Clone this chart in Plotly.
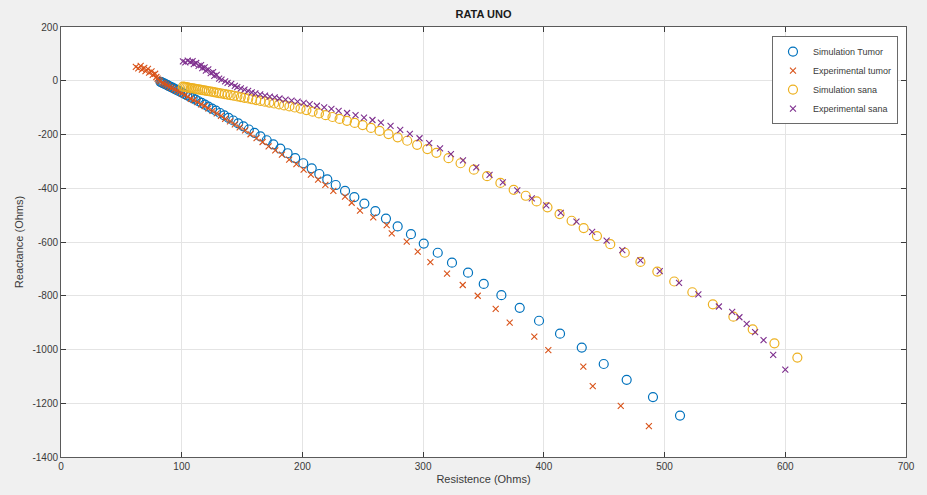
import plotly.graph_objects as go

# ---------------- data ----------------
sim_tumor_x = [82.4, 83.4, 84.5, 85.6, 86.8, 88.1, 89.4, 90.8, 92.2, 93.7,
               95.3, 97.0, 98.8, 100.6, 102.6, 104.6, 106.8, 109.0, 111.4, 113.9,
               116.5, 119.2, 122.1, 125.1, 128.3, 131.7, 135.2, 138.8, 142.7, 146.8,
               151.1, 155.6, 160.3, 165.2, 170.4, 175.9, 181.7, 187.7, 194.0,
               200.7, 207.7, 214.0, 220.6, 227.6, 235.3, 243.0, 251.3, 260.4, 269.2,
               278.9, 289.9, 300.5, 312.1, 323.9, 337.2, 350.2, 364.8, 380.0, 396.0,
               413.4, 431.4, 449.6, 468.6, 490.4, 512.8]
sim_tumor_y = [-4, -6.2, -8.6, -11, -13.7, -16.6, -19.6, -22.7, -25.9, -29.3,
               -32.9, -36.8, -40.9, -45, -49.7, -54.3, -59.5, -64.7, -70.4, -76.3,
               -82.6, -89.2, -96.1, -103.5, -111.5, -120, -128.8, -137.9, -147.9, -158.4,
               -169.6, -181.4, -194, -207.2, -221.4, -236.5, -252.8, -269.7, -287.7,
               -307, -326, -347, -367, -388, -410, -433, -457, -485, -513,
               -542, -571, -606, -640, -677, -714, -756, -798, -845, -893,
               -941, -993, -1054, -1113, -1177, -1246]

exp_tumor_x = [62, 64, 66, 67, 69, 70, 72, 73, 75, 76, 78, 79, 80, 81, 82,
               84, 85.5, 87, 88.5, 90, 92, 94, 96, 98, 100,
               102.5, 105, 107.5, 110, 113, 116, 119, 122, 125.5, 129,
               132.5, 136, 140, 144, 148, 152.5, 157, 162, 167, 172,
               177.5, 183, 189, 195, 201, 207, 213, 219,
               225.6, 235.3, 240.8, 247.7, 258.7, 269.8, 274, 286.4, 295.5, 306,
               319.8, 332.8, 345.2, 360.1, 371.7, 392.1, 403.7, 432.7, 440.5, 463.7, 487]
exp_tumor_y = [52, 46, 55, 41, 48, 36, 44, 30, 35, 22, 26, 14, 8, 2, -2,
               -7.5, -11.1, -14.8, -18.4, -23.5, -26.9, -31.8, -36.8, -40.5, -46.7,
               -52.9, -59.3, -67, -71.9, -79.7, -87.5, -94, -103.1, -112.4, -121.8,
               -131.1, -142, -151.5, -162.5, -173.7, -185, -199.1, -213.4, -227.9, -244,
               -258.8, -275.2, -293.4, -310, -330.3, -349.2, -368.2, -387.5,
               -410, -431, -454, -483, -508, -537, -568, -599, -636, -675,
               -718, -760, -800, -849, -900, -952, -1002, -1064, -1136, -1210, -1285]

sim_sana_x = [101, 102.2, 103.5, 104.8, 106.1, 107.5, 109, 110.5, 112, 113.6,
              115.2, 116.9, 118.7, 120.5, 122.4, 124.4, 126.5, 128.6, 130.8, 133.1,
              135.5, 138, 140.6, 143.3, 146.1, 149, 152, 155.1, 158.3, 161.7,
              165.2, 168.8, 172.6, 176.5, 180.6, 184.8, 189.2, 193.7, 198.4, 203.3,
              208.4, 213.7, 219.2, 224.9, 230.8, 236.9, 243.3, 249.9, 256.8, 263.9,
              271.3, 278.9, 286.8, 295, 303.5,
              311, 321, 331, 342, 353, 364, 375, 385, 394, 403,
              413, 423, 433, 444, 455, 467, 480, 494, 508, 523,
              540, 557, 573, 591, 610]
sim_sana_y = [-22, -23, -24, -25, -26, -27.2, -28.4, -29.6, -30.7, -32,
              -33.3, -34.6, -36.1, -37.5, -39, -40.6, -42.3, -43.9, -45.7, -47.5,
              -49.4, -51.4, -53.5, -55.9, -58.3, -60.8, -63.4, -66.1, -68.9, -71.8,
              -74.9, -78, -81.3, -84.6, -88.2, -91.8, -95.6, -99.5, -103.6, -109,
              -115, -121.4, -128, -134.9, -142, -149.3, -157, -164.9, -175.7, -186.8,
              -198.4, -210.4, -223.3, -238.5, -254.2,
              -268, -288, -307, -331, -355, -380, -406, -428, -449, -471,
              -496, -521, -548, -578, -608, -640, -674, -710, -747, -787,
              -832, -878, -925, -977, -1030]

exp_sana_x = [101, 103, 105, 107, 109, 110, 112, 114, 116, 117,
              119, 120, 122, 124, 126, 127, 129, 131, 133, 136,
              138, 141, 144, 146, 149, 152, 155, 158, 161, 165,
              169, 173, 177, 181, 186, 191, 196, 201, 206, 212,
              218, 224, 230, 237, 244, 251, 258, 265, 273, 281,
              289, 297, 305, 314, 323, 333, 344, 355, 366, 378,
              390, 402, 414, 427, 440, 452, 465, 480, 496, 512,
              528, 545, 556, 562, 568, 575, 582, 590, 600]
exp_sana_y = [72, 68, 75, 70, 73, 62, 66, 55, 58, 47,
              50, 38, 42, 28, 32, 18, 22, 8, 4, -2,
              -8, -12, -19, -24, -28, -33, -38, -43, -47, -51,
              -55, -59, -62, -66, -70, -74, -78, -82, -87, -93,
              -99, -105, -112, -120, -128, -137, -146, -156, -168, -183,
              -198, -214, -232, -252, -273, -296, -322, -350, -378, -408,
              -438, -464, -492, -524, -562, -595, -630, -668, -708, -752,
              -795, -840, -860, -880, -905, -935, -965, -1020, -1075]

series_names = ["Simulation Tumor", "Experimental tumor", "Simulation sana", "Experimental sana"]
x_ticks = [0, 100, 200, 300, 400, 500, 600, 700]
y_ticks = [-1400, -1200, -1000, -800, -600, -400, -200, 0, 200]

# ---------------- figure ----------------
FONT = "Liberation Sans, Arial, sans-serif"
fig = go.Figure()

fig.add_trace(go.Scatter(x=sim_tumor_x, y=sim_tumor_y, mode="markers", name=series_names[0],
                         marker=dict(symbol="circle-open", size=9, color="#0072BD",
                                     line=dict(width=1.2, color="#0072BD"))))
fig.add_trace(go.Scatter(x=exp_tumor_x, y=exp_tumor_y, mode="markers", name=series_names[1],
                         marker=dict(symbol="x-thin-open", size=6, color="#D95319",
                                     line=dict(width=1.1, color="#D95319"))))
fig.add_trace(go.Scatter(x=sim_sana_x, y=sim_sana_y, mode="markers", name=series_names[2],
                         marker=dict(symbol="circle-open", size=9, color="#EDB120",
                                     line=dict(width=1.2, color="#EDB120"))))
fig.add_trace(go.Scatter(x=exp_sana_x, y=exp_sana_y, mode="markers", name=series_names[3],
                         marker=dict(symbol="x-thin-open", size=6, color="#7E2F8E",
                                     line=dict(width=1.1, color="#7E2F8E"))))

axis_common = dict(showline=True, linecolor="#5a5a5a", linewidth=1, mirror="ticks",
                   ticks="inside", ticklen=5, tickcolor="#3a3a3a", tickwidth=1,
                   showgrid=True, gridcolor="#e4e4e4", gridwidth=1, zeroline=False,
                   tickfont=dict(family=FONT, size=10, color="#3a3a3a"))

fig.update_xaxes(range=[0, 700], tickvals=x_ticks, ticktext=[str(v) for v in x_ticks],
                 title=dict(text="Resistence (Ohms)", font=dict(family=FONT, size=11, color="#3a3a3a"),
                            standoff=4),
                 **axis_common)
fig.update_yaxes(range=[-1400, 200], tickvals=y_ticks, ticktext=[str(v) for v in y_ticks],
                 title=dict(text="Reactance (Ohms)", font=dict(family=FONT, size=11, color="#3a3a3a"),
                            standoff=6),
                 **axis_common)

fig.update_layout(
    width=927, height=495,
    margin=dict(l=61, r=21, t=27, b=38),
    paper_bgcolor="#f0f0f0", plot_bgcolor="white",
    title=dict(text="<b>RATA UNO</b>", x=0.5, xref="paper", xanchor="center",
               y=1 - 14 / 495, yref="container", yanchor="middle",
               font=dict(family=FONT, size=11, color="#1a1a1a")),
    legend=dict(x=0.9905, xanchor="right", y=0.979, yanchor="top",
                bgcolor="white", bordercolor="#6a6a6a", borderwidth=1,
                font=dict(family=FONT, size=9, color="#3a3a3a"),
                itemsizing="trace", tracegroupgap=0),
    showlegend=True,
)

fig.write_html("out.html",
               config={"displayModeBar": False},
               post_script="document.body.style.margin='0px';document.body.style.overflow='hidden';")
